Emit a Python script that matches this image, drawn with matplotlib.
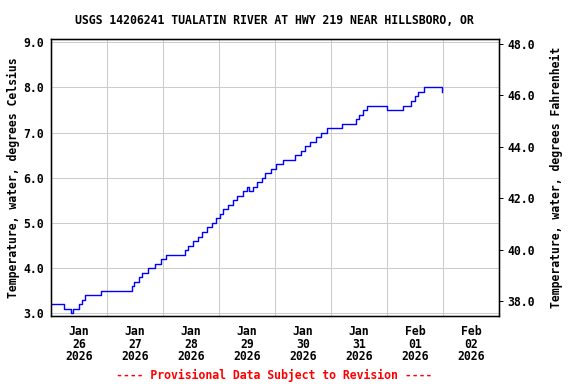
import matplotlib
matplotlib.use("Agg")
import matplotlib.pyplot as plt
import matplotlib.dates as mdates
from datetime import datetime, timedelta

# Step-change times (hours after 2026-01-26 00:00) and water temperature (deg C)
change_hours = [0.0, 5.4, 8.4, 9.4, 12.0, 13.3, 14.7, 21.6, 34.8, 35.7, 37.7, 39.1,
                41.4, 44.6, 47.0, 49.3, 57.4, 58.9, 60.7, 62.8, 64.7, 66.9, 69.0,
                70.9, 72.6, 73.9, 75.9, 78.0, 79.9, 82.1, 84.0, 84.9, 86.6, 88.1,
                90.4, 91.9, 94.1, 96.4, 99.6, 104.4, 107.1, 108.9, 111.2, 113.4,
                115.7, 118.3, 124.5, 130.9, 132.0, 133.9, 135.4, 144.2, 150.9,
                154.3, 155.8, 157.3, 159.9, 167.2, 167.5]
temps_c = [3.2, 3.1, 3.0, 3.1, 3.2, 3.3, 3.4, 3.5, 3.6, 3.7, 3.8, 3.9,
           4.0, 4.1, 4.2, 4.3, 4.4, 4.5, 4.6, 4.7, 4.8, 4.9, 5.0,
           5.1, 5.2, 5.3, 5.4, 5.5, 5.6, 5.7, 5.8, 5.7, 5.8, 5.9,
           6.0, 6.1, 6.2, 6.3, 6.4, 6.5, 6.6, 6.7, 6.8, 6.9,
           7.0, 7.1, 7.2, 7.3, 7.4, 7.5, 7.6, 7.5, 7.6,
           7.7, 7.8, 7.9, 8.0, 8.0, 7.9]

c_ticks = [3.0, 4.0, 5.0, 6.0, 7.0, 8.0, 9.0]
f_ticks = [38.0, 40.0, 42.0, 44.0, 46.0, 48.0]
day_labels = ["Jan\n26\n2026", "Jan\n27\n2026", "Jan\n28\n2026", "Jan\n29\n2026",
              "Jan\n30\n2026", "Jan\n31\n2026", "Feb\n01\n2026", "Feb\n02\n2026"]

title = "USGS 14206241 TUALATIN RIVER AT HWY 219 NEAR HILLSBORO, OR"
footer = "---- Provisional Data Subject to Revision ----"

start = datetime(2026, 1, 26)
times = [start + timedelta(hours=h) for h in change_hours]

FS = 11.5
font = {"family": "DejaVu Sans Mono", "weight": "bold"}

fig = plt.figure(figsize=(8, 384 / 72), dpi=72)
ax = fig.add_axes([51 / 576, 1 - 316 / 384, 448 / 576, 277 / 384])

ax.plot(times, temps_c, color="#0000ff", linewidth=1.4, drawstyle="steps-post")

ax.set_xlim(start, start + timedelta(days=8))
ax.set_ylim(2.94, 9.073)

mid = [start + timedelta(days=i) for i in range(9)]
noon = [start + timedelta(days=i, hours=12) for i in range(8)]
ax.set_xticks([mdates.date2num(t) for t in mid], minor=True)
ax.set_xticks([mdates.date2num(t) for t in noon])
ax.set_xticklabels(day_labels, fontdict=font, fontsize=FS, linespacing=0.95)
ax.tick_params(axis="x", which="both", length=0, pad=9)
ax.grid(True, axis="x", which="minor", color="#cccccc", linewidth=1.0)
ax.grid(False, axis="x", which="major")

ax.set_yticks(c_ticks)
ax.set_yticklabels([f"{v:.1f}" for v in c_ticks], fontdict=font, fontsize=FS)
ax.tick_params(axis="y", length=0, pad=7)
ax.grid(True, axis="y", color="#cccccc", linewidth=1.0)
ax.set_axisbelow(True)
ax.set_ylabel("Temperature, water, degrees Celsius", fontdict=font, fontsize=FS, labelpad=3)

for s in ax.spines.values():
    s.set_linewidth(1.3)
    s.set_color("black")

ax2 = ax.twinx()
ax2.set_ylim(37.416, 48.195)
ax2.set_yticks(f_ticks)
ax2.set_yticklabels([f"{v:.1f}" for v in f_ticks], fontdict=font, fontsize=FS)
ax2.tick_params(axis="y", length=4, width=1.0, direction="out", pad=4)
ax2.set_ylabel("Temperature, water, degrees Fahrenheit", fontdict=font, fontsize=FS, labelpad=15)
for s in ax2.spines.values():
    s.set_linewidth(1.3)

fig.text(274 / 576, 1 - 20 / 384, title, ha="center", va="center", fontdict=font, fontsize=FS)
fig.text(274 / 576, 1 - 375 / 384, footer, ha="center", va="center", fontdict=font,
         fontsize=FS, color="#ff0000")

fig.savefig("out.png", dpi=72)
